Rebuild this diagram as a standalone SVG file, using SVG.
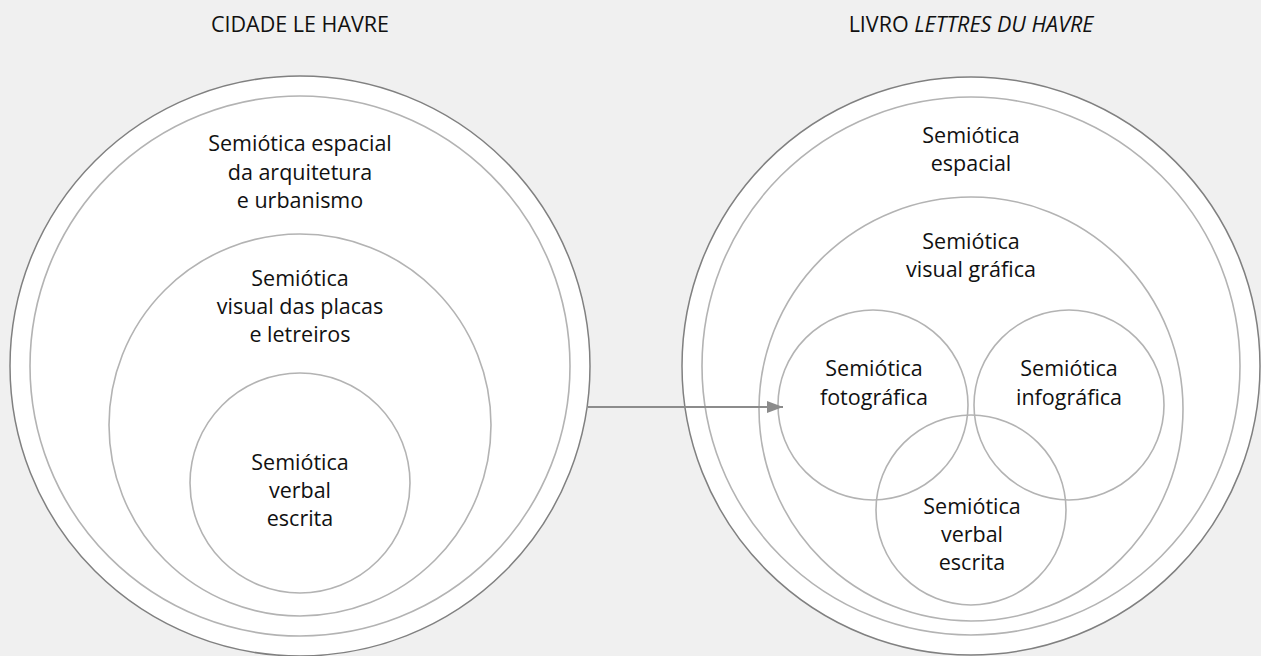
<svg xmlns="http://www.w3.org/2000/svg" width="1261" height="656" viewBox="0 0 1261 656">
<defs>
<style>
.bg{fill:#f0f0f0}
.outer{fill:#ffffff;stroke:#808080;stroke-width:1.5}
.ring{fill:none;stroke:#b3b3b3;stroke-width:1.6}
.t{font-family:"Open Sans","Noto Sans","DejaVu Sans",sans-serif;font-size:21.5px;fill:#111111;text-anchor:middle}
.it{font-style:italic}
.conn{stroke:#8c8c8c;stroke-width:2;fill:none}
</style>
<marker id="arrL" markerWidth="16" markerHeight="12" refX="16" refY="6" orient="auto" markerUnits="userSpaceOnUse" viewBox="0 0 16 12">
<path d="M0,0 L16,6 L0,12 Z" fill="#8c8c8c"/>
</marker>
</defs>
<rect class="bg" x="0" y="0" width="1261" height="656"/>

<g id="title-left"><text class="t" x="300" y="32">CIDADE LE HAVRE</text></g>
<g id="title-right"><text class="t" x="971" y="32">LIVRO <tspan class="it">LETTRES DU HAVRE</tspan></text></g>

<g id="city-outer">
<circle class="outer" cx="300" cy="366" r="290"/>
</g>
<g id="city-espacial">
<circle class="ring" cx="300" cy="366" r="270"/>
<text class="t" x="300" y="151">Semiótica espacial</text>
<text class="t" x="300" y="180">da arquitetura</text>
<text class="t" x="300" y="208">e urbanismo</text>
</g>
<g id="city-visual">
<circle class="ring" cx="300" cy="425" r="191"/>
<text class="t" x="300" y="286">Semiótica</text>
<text class="t" x="300" y="314">visual das placas</text>
<text class="t" x="300" y="342">e letreiros</text>
</g>
<g id="city-verbal">
<circle class="ring" cx="300" cy="483" r="110"/>
<text class="t" x="300" y="470">Semiótica</text>
<text class="t" x="300" y="498">verbal</text>
<text class="t" x="300" y="526">escrita</text>
</g>

<g id="book-outer">
<circle class="outer" cx="971" cy="366" r="289"/>
</g>
<g id="book-espacial">
<circle class="ring" cx="971" cy="366" r="269"/>
<text class="t" x="971" y="143">Semiótica</text>
<text class="t" x="971" y="171">espacial</text>
</g>
<g id="book-visual">
<circle class="ring" cx="971" cy="409" r="212"/>
<text class="t" x="971" y="249">Semiótica</text>
<text class="t" x="971" y="277">visual gráfica</text>
</g>
<g id="book-foto">
<circle class="ring" cx="873" cy="405" r="95"/>
<text class="t" x="874" y="376">Semiótica</text>
<text class="t" x="874" y="405">fotográfica</text>
</g>
<g id="book-info">
<circle class="ring" cx="1069" cy="405" r="95"/>
<text class="t" x="1069" y="376">Semiótica</text>
<text class="t" x="1069" y="405">infográfica</text>
</g>
<g id="book-verbal">
<circle class="ring" cx="971" cy="510" r="95"/>
<text class="t" x="972" y="514">Semiótica</text>
<text class="t" x="972" y="542">verbal</text>
<text class="t" x="972" y="570">escrita</text>
</g>

<g id="connectors">
<line class="conn" x1="588" y1="407" x2="783" y2="407" marker-end="url(#arrL)"/>
</g>
</svg>
